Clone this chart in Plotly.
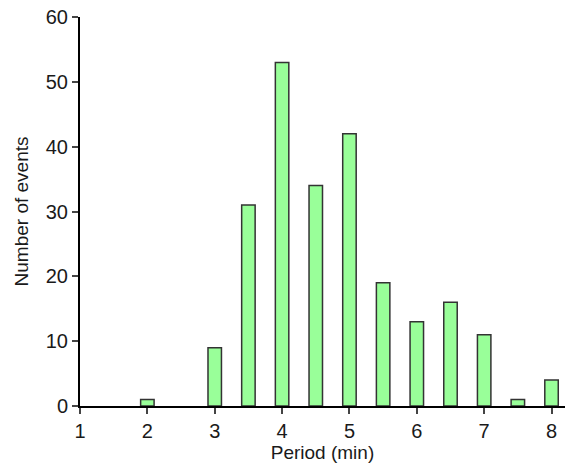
import plotly.graph_objects as go

periods = [2, 3, 3.5, 4, 4.5, 5, 5.5, 6, 6.5, 7, 7.5, 8]
counts = [1, 9, 31, 53, 34, 42, 19, 13, 16, 11, 1, 4]
x_ticks = [1, 2, 3, 4, 5, 6, 7, 8]
y_ticks = [0, 10, 20, 30, 40, 50, 60]

fig = go.Figure(go.Bar(
    x=periods, y=counts, width=0.2,
    marker=dict(color="#99FF99", line=dict(color="#333333", width=1.5)),
))

font = dict(family="Liberation Sans, Arial, sans-serif", color="#1a1a1a")
fig.update_layout(
    width=565, height=467,
    margin=dict(l=80, r=0, t=17, b=61, autoexpand=False),
    paper_bgcolor="white", plot_bgcolor="white",
    font=dict(**font, size=20),
    showlegend=False,
    xaxis=dict(range=[1, 8.2], tickvals=x_ticks, ticks="outside", ticklen=6, tickwidth=2,
               showline=True, linewidth=2, linecolor="black", showgrid=False, zeroline=False,
               automargin=False,
               title=dict(text="Period (min)", font=dict(size=19), standoff=2),
               tickfont=dict(size=20)),
    yaxis=dict(range=[0, 60], tickvals=y_ticks, ticks="outside", ticklen=6, tickwidth=2,
               showline=True, linewidth=2, linecolor="black", showgrid=False, zeroline=False,
               automargin=False,
               title=dict(text="Number of events", font=dict(size=19), standoff=12),
               tickfont=dict(size=20)),
)
fig.write_html("out.html", config={"displayModeBar": False},
               post_script="document.body.style.margin='0';document.body.style.overflow='hidden';")
